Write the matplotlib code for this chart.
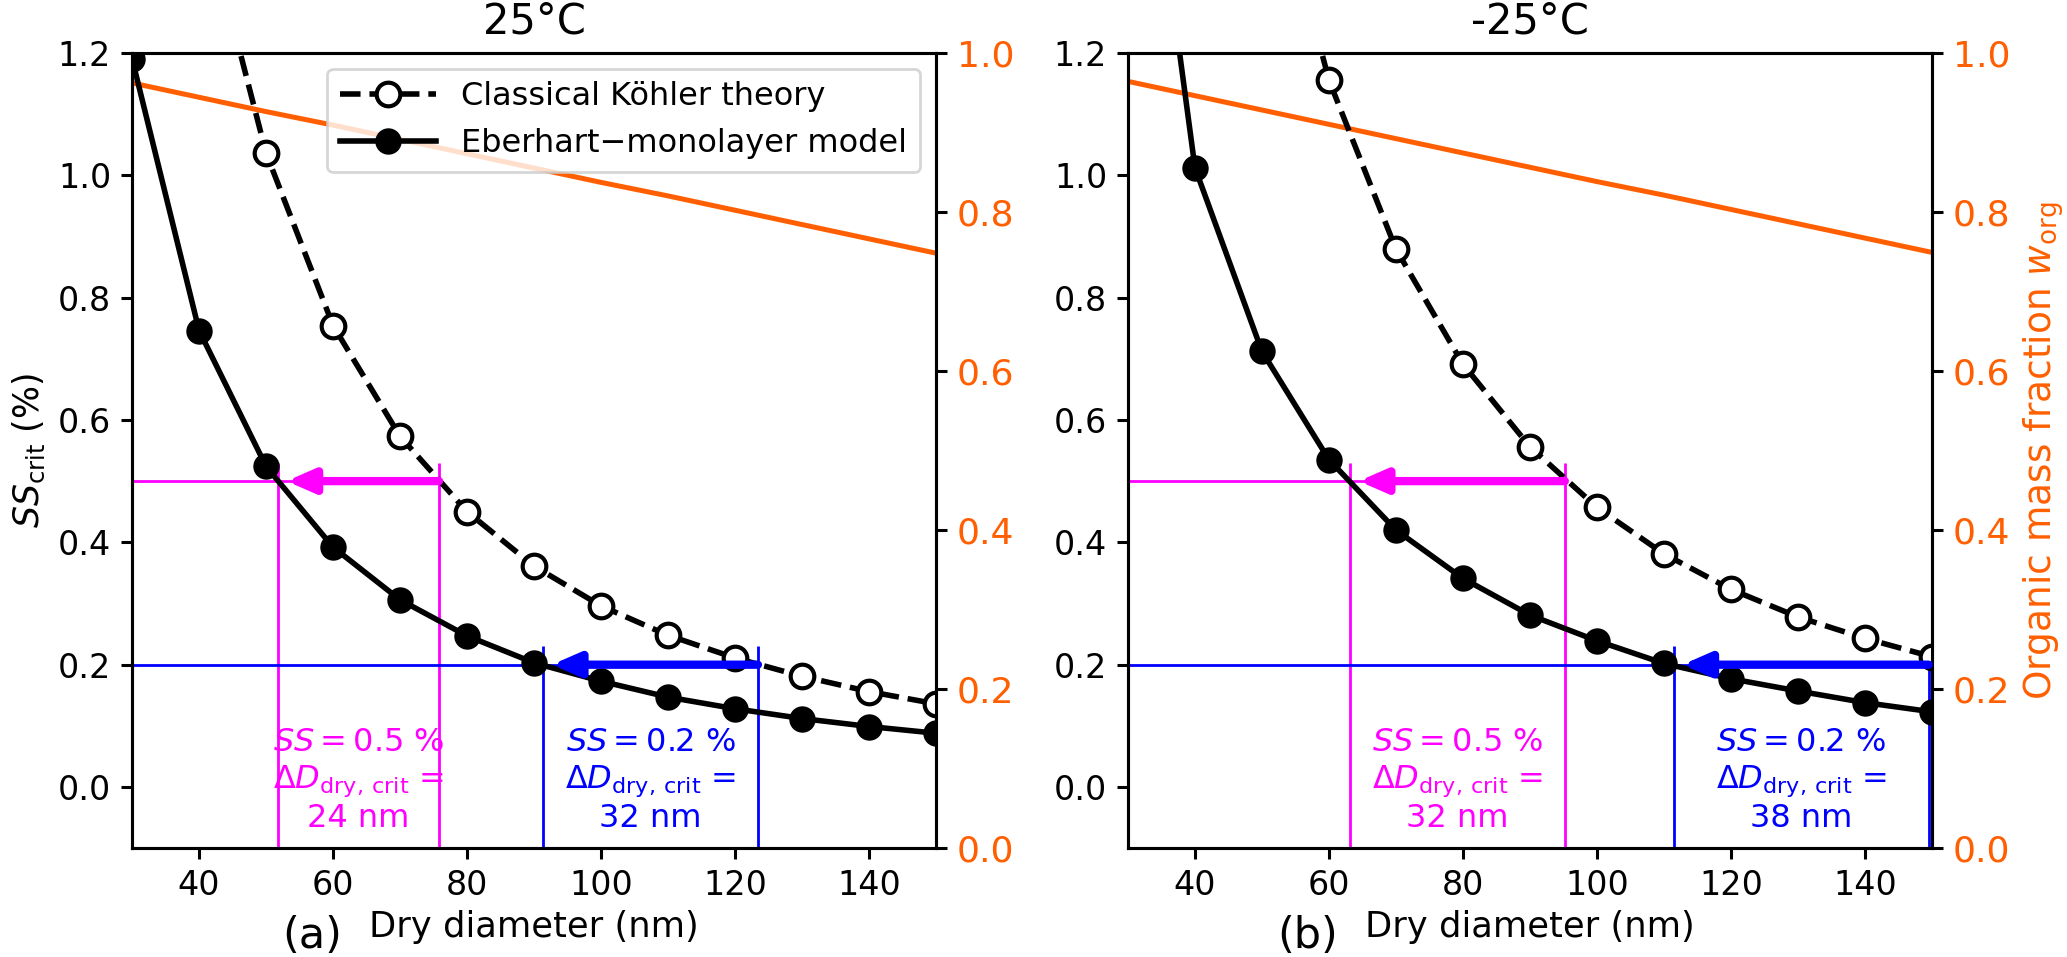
import matplotlib.pyplot as plt

plt.rcParams['font.family'] = 'DejaVu Sans'
plt.rcParams['mathtext.fontset'] = 'dejavusans'

# -------------------------------
# Data
# -------------------------------
diam = [30, 40, 50, 60, 70, 80, 90, 100, 110, 120, 130, 140, 150]

# 25 C
kohler_25 = [2.24, 1.46, 1.036, 0.754, 0.573, 0.450, 0.361, 0.296, 0.248, 0.211, 0.181, 0.156, 0.136]
eberhart_25 = [1.19, 0.746, 0.524, 0.392, 0.306, 0.247, 0.203, 0.173, 0.147, 0.128, 0.112, 0.099, 0.088]
worg_25 = [0.962, 0.944, 0.926, 0.909, 0.891, 0.873, 0.855, 0.837, 0.820, 0.802, 0.784, 0.766, 0.748]

# -25 C
kohler_m25 = [3.30, 2.20, 1.57, 1.155, 0.879, 0.691, 0.556, 0.457, 0.381, 0.323, 0.278, 0.243, 0.213]
eberhart_m25 = [1.83, 1.012, 0.712, 0.535, 0.420, 0.341, 0.281, 0.239, 0.202, 0.177, 0.157, 0.138, 0.123]
worg_m25 = [0.964, 0.946, 0.928, 0.910, 0.892, 0.874, 0.856, 0.838, 0.821, 0.803, 0.785, 0.767, 0.749]

ss_levels = [0.5, 0.2]
ss_colors = ['#ff00ff', '#0000ff']
# (Eberhart, Koehler) dry diameters where SS_crit equals the level
dcrit_25 = [(51.8, 75.8), (91.4, 123.4)]
dcrit_m25 = [(63.2, 95.2), (111.5, 149.5)]
delta_25 = [24, 32]
delta_m25 = [32, 38]

orange = '#ff5f00'

fig = plt.figure(figsize=(10.335, 4.785), dpi=200)


def draw_panel(rect, kohler, eberhart, worg, dcrit, delta, title, tag, first):
    ax = fig.add_axes(rect)
    ax2 = ax.twinx()
    ax.set_zorder(ax2.get_zorder() + 1)
    ax.patch.set_visible(False)

    ax2.plot(diam, worg, color=orange, lw=1.8)

    for ss, c, (d_e, d_k), dd in zip(ss_levels, ss_colors, dcrit, delta):
        ax.hlines(ss, 30, d_k, color=c, lw=1.0)
        ax.vlines([d_e, d_k], -0.1, ss + 0.03, color=c, lw=1.0)
        ax.annotate('', xy=(d_e, ss), xytext=(d_k, ss),
                    arrowprops=dict(arrowstyle='-|>,head_length=0.8,head_width=0.35',
                                    color=c, lw=3, shrinkA=0, shrinkB=3,
                                    mutation_scale=10))
        # last line baseline sits just above the bottom spine
        ax.text((d_e + d_k) / 2, -0.066,
                f'$SS = {ss}$ %\n$\\Delta D_\\mathrm{{dry,\\,crit}}$ =\n{dd} nm',
                ha='center', va='baseline', multialignment='center',
                color=c, fontsize=11.5)

    ax.plot(diam, kohler, color='k', ls='--', lw=2, marker='o', ms=8.5,
            mfc='white', mec='k', mew=1.5, label='Classical Köhler theory')
    ax.plot(diam, eberhart, color='k', ls='-', lw=2, marker='o', ms=8.5,
            mfc='k', mec='k', label='Eberhart\u2212monolayer model')

    ax.set_xlim(30, 150)
    ax.set_ylim(-0.1, 1.2)
    ax2.set_ylim(0, 1.0)
    ax.set_xticks([40, 60, 80, 100, 120, 140])
    ax.set_yticks([0.0, 0.2, 0.4, 0.6, 0.8, 1.0, 1.2])
    ax2.set_yticks([0.0, 0.2, 0.4, 0.6, 0.8, 1.0])
    ax.tick_params(labelsize=12, width=1.1, length=4)
    ax2.tick_params(labelsize=13, width=1.1, length=4, labelcolor=orange)
    for a in (ax, ax2):
        for s in a.spines.values():
            s.set_linewidth(1.1)

    ax.set_title(title, fontsize=15, pad=7)
    ax.set_xlabel('Dry diameter (nm)', fontsize=12.7, labelpad=3)
    ax.text(0.261, -0.125, tag, transform=ax.transAxes, ha='right',
            va='baseline', fontsize=15.5)

    if first:
        ax.set_ylabel('$SS_\\mathrm{crit}$ (%)', fontsize=12.5)
        ax.legend(loc='upper right', fontsize=11.5, handlelength=3.0)
    else:
        ax2.set_ylabel('Organic mass fraction $w_\\mathrm{org}$',
                       color=orange, fontsize=13.5)
    return ax, ax2


draw_panel([0.0639, 0.1136, 0.389, 0.8313], kohler_25, eberhart_25, worg_25,
           dcrit_25, delta_25, '25°C', '(a)', True)
draw_panel([0.5457, 0.1136, 0.389, 0.8313], kohler_m25, eberhart_m25, worg_m25,
           dcrit_m25, delta_m25, '-25°C', '(b)', False)

plt.savefig('out.png', dpi=200)
